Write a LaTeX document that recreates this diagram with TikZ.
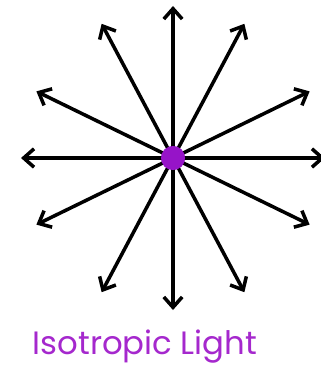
\documentclass[tikz,border=0pt]{standalone}
\usepackage{fontspec}
\usepackage{xcolor}
\usepackage{tikz}
\usetikzlibrary{arrows.meta, positioning, calc}
\definecolor{lightpurple}{RGB}{150,20,200}
\definecolor{captionpurple}{RGB}{165,40,205}
\tikzset{
  raybox/.style={
    draw=none, fill=lightpurple, circle, minimum size=0.6cm, inner sep=0pt
  },
  rayarrow/.style={
    -{Straight Barb[length=2.6mm, width=4.6mm]}, line width=2.5pt, color=black
  },
  raylabel/.style={
    font=\fontspec{Poppins}\fontsize{23}{26}\selectfont, text=captionpurple
  },
}
\begin{document}
\begin{tikzpicture}[x=0.025cm, y=-0.025cm]
  \useasboundingbox (0,0) rectangle (321,374);

  % ── Light source ──
  \node[raybox] (source) at (173,158) {};

  % ── Rays ──
  \foreach \ang [count=\i] in {0,26,62,90,118,154,180,206,242,270,298,334} {
    \coordinate (tip\i) at ($(source.center)+(\ang:152 and -152)$);
    \draw[rayarrow] (source.center) -- (tip\i);
  }
  \node[raybox] at (source) {};

  % ── Caption ──
  \node[raylabel] (caption) at (145,347) {Isotropic Light};
\end{tikzpicture}
\end{document}
